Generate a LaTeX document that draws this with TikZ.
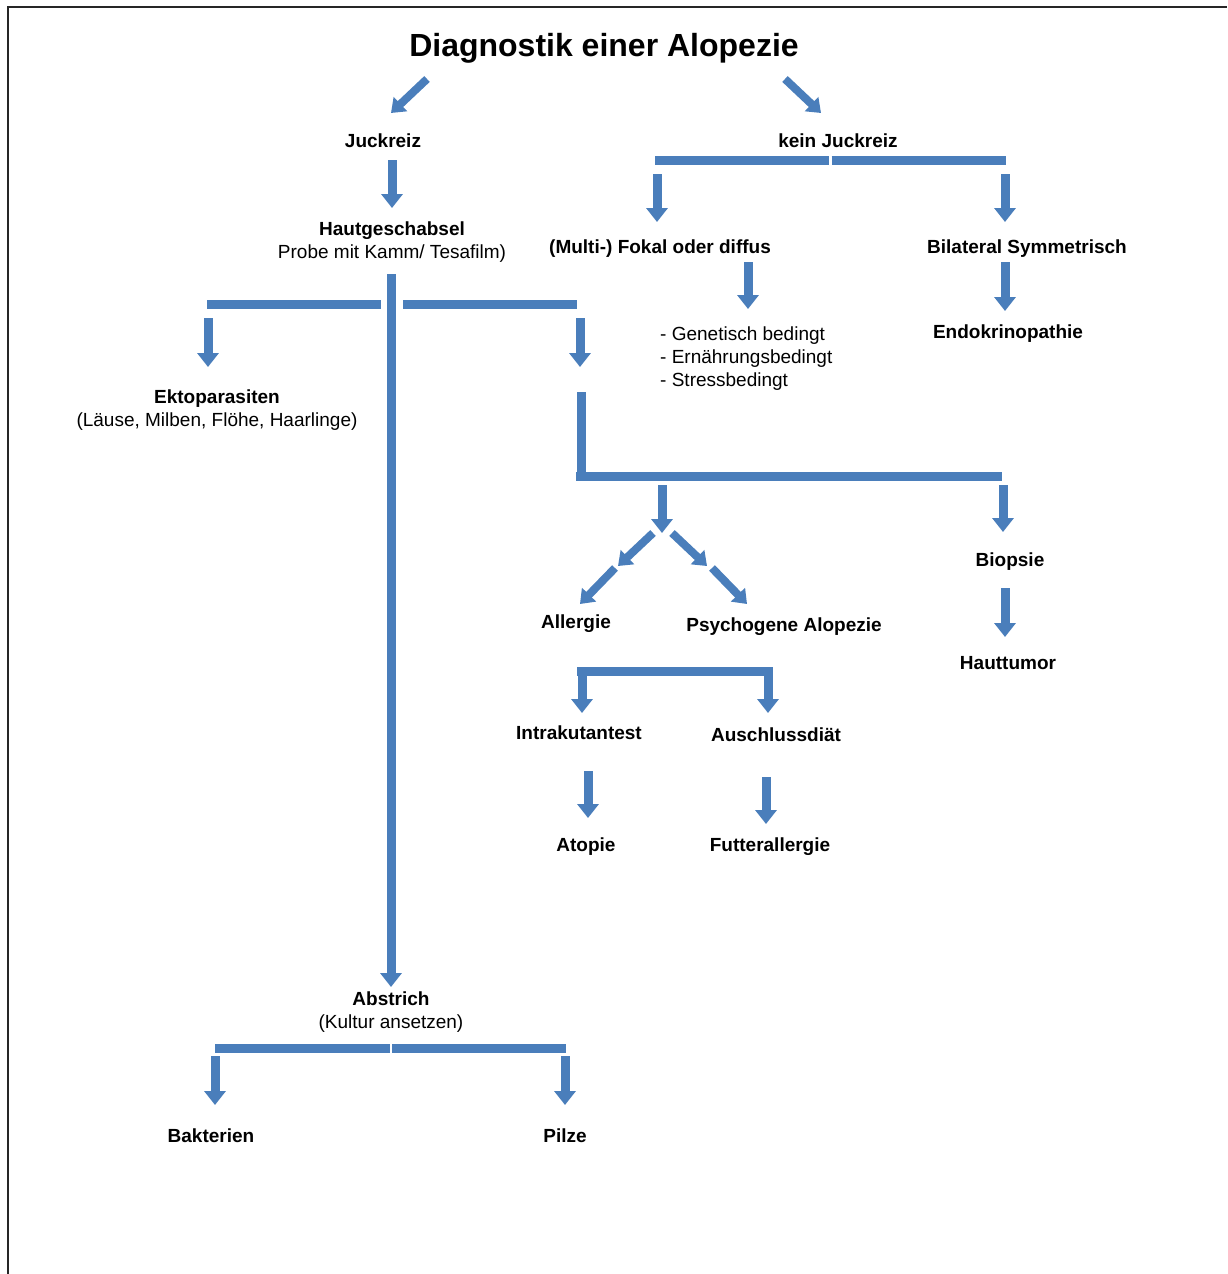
\documentclass[tikz,border=0pt]{standalone}
\usepackage{fontspec}
\setmainfont{Liberation Sans}
\usetikzlibrary{arrows.meta,calc}
\definecolor{barblue}{RGB}{74,126,187}

\begin{document}
\begin{tikzpicture}[x=1pt,y=-1pt,
    lbl/.style={font=\fontsize{19}{23}\selectfont\bfseries, inner sep=0pt, align=center},
    sub/.style={font=\fontsize{19}{23}\selectfont, inner sep=0pt},
    bar/.style={draw=barblue, line width=9pt},
    blockarrow/.style={bar, -{Triangle[width=21pt,length=14pt]}},
    diagarrow/.style={draw=barblue, line width=8pt, -{Triangle[width=19pt,length=13pt]}}
  ]
  \useasboundingbox (0,0) rectangle (1227,1274);
  \draw[line width=2.5pt, black!85] (8,1274) -- (8,7) -- (1227,7);

  \node[lbl, font=\fontsize{32}{36}\selectfont\bfseries] (title) at (604,48) {Diagnostik einer Alopezie};
  \node[lbl] (juck) at (383,141) {Juckreiz};
  \node[lbl] (kein) at (838,141) {kein Juckreiz};
  \node[lbl] (haut) at (392,242) {Hautgeschabsel\\{\mdseries Probe mit Kamm/ Tesafilm)}};
  \node[lbl] (fokal) at (660,249) {(Multi-) Fokal oder diffus};
  \node[lbl] (bilat) at (1027,249) {Bilateral Symmetrisch};
  \node[sub, align=left, anchor=west] (urs) at (660,359) {- Genetisch bedingt\\- Ernährungsbedingt\\- Stressbedingt};
  \node[lbl] (endo) at (1008,334) {Endokrinopathie};
  \node[lbl] (ekto) at (217,410) {Ektoparasiten\\{\mdseries (Läuse, Milben, Flöhe, Haarlinge)}};
  \node[lbl] (biop) at (1010,562) {Biopsie};
  \node[lbl] (tumor) at (1008,663) {Hauttumor};
  \node[lbl] (allerg) at (576,624) {Allergie};
  \node[lbl] (psych) at (784,627) {Psychogene Alopezie};
  \node[lbl] (intra) at (579,733) {Intrakutantest};
  \node[lbl] (aus) at (776,735) {Auschlussdiät};
  \node[lbl] (atop) at (586,847) {Atopie};
  \node[lbl] (futter) at (770,847) {Futterallergie};
  \node[lbl] (abstr) at (391,1012) {Abstrich\\{\mdseries (Kultur ansetzen)}};
  \node[lbl] (bakt) at (211,1136) {Bakterien};
  \node[lbl] (pilz) at (565,1136) {Pilze};

  \coordinate (tl0) at (427,79);   \coordinate (tl1) at (391,113);
  \coordinate (tr0) at (785,79);   \coordinate (tr1) at (821,113);
  \coordinate (j0) at (392,160);   \coordinate (j1) at (392,208);
  \coordinate (kl) at (655,160);   \coordinate (km) at (830,160);   \coordinate (kr) at (1006,160);
  \coordinate (f0) at (748,262);   \coordinate (f1) at (748,309);
  \coordinate (b0) at (1005,262);  \coordinate (b1) at (1005,311);
  \coordinate (h0) at (391,274);   \coordinate (h1) at (391,987);
  \coordinate (hl) at (207,304);   \coordinate (hr) at (577,304);
  \coordinate (m0) at (581,392);   \coordinate (m1) at (581,476);   \coordinate (mr) at (1002,476);
  \coordinate (c0) at (662,485);   \coordinate (c1) at (662,533);
  \coordinate (d0) at (1005,588);  \coordinate (d1) at (1005,637);
  \coordinate (a0) at (577,671);   \coordinate (a1) at (764,671);
  \coordinate (e0) at (588,771);   \coordinate (e1) at (588,818);
  \coordinate (g0) at (766,777);   \coordinate (g1) at (766,824);
  \coordinate (s0) at (215,1048);  \coordinate (s1) at (566,1048);

  \draw[diagarrow] (tl0) -- (tl1);
  \draw[diagarrow] (tr0) -- (tr1);
  \draw[blockarrow] (j0) -- (j1);

  \draw[bar] (kl) -- ($(km)+(-1.5,0)$);
  \draw[bar] ($(km)+(1.5,0)$) -- (kr);
  \draw[blockarrow] ($(kl)+(2,14)$) -- ++(0,48);
  \draw[blockarrow] ($(kr)+(-1,14)$) -- ++(0,48);
  \draw[blockarrow] (f0) -- (f1);
  \draw[blockarrow] (b0) -- (b1);

  \draw[blockarrow] (h0) -- (h1);
  \draw[bar] (hl) -- ($(hl -| h0)+(-10,0)$);
  \draw[bar] ($(hl -| h0)+(12,0)$) -- (hr);
  \draw[blockarrow] ($(hl)+(1,14)$) -- ++(0,49);
  \draw[blockarrow] ($(hr)+(3,14)$) -- ++(0,49);

  \draw[bar] (m0) -- (m1);
  \draw[bar] ($(m1)+(-5,0)$) -- (mr);
  \draw[blockarrow] (c0) -- (c1);
  \draw[blockarrow] ($(mr)+(1,9)$) -- ++(0,47);
  \draw[diagarrow] (653,533) -- (618,566);
  \draw[diagarrow] (615,568) -- (580,604);
  \draw[diagarrow] (672,533) -- (707,566);
  \draw[diagarrow] (712,568) -- (747,604);
  \draw[blockarrow] (d0) -- (d1);

  \draw[bar] (a0) -- (a1);
  \draw[blockarrow] ($(a0)+(5,-4)$) -- ++(0,46);
  \draw[blockarrow] ($(a1)+(4,-4)$) -- ++(0,46);
  \draw[blockarrow] (e0) -- (e1);
  \draw[blockarrow] (g0) -- (g1);

  \draw[bar] (s0) -- ($(s0 -| h0)+(-1,0)$);
  \draw[bar] ($(s0 -| h0)+(1,0)$) -- (s1);
  \draw[blockarrow] ($(s0)+(0,8)$) -- ++(0,49);
  \draw[blockarrow] ($(s1)+(-1,8)$) -- ++(0,49);
\end{tikzpicture}
\end{document}
